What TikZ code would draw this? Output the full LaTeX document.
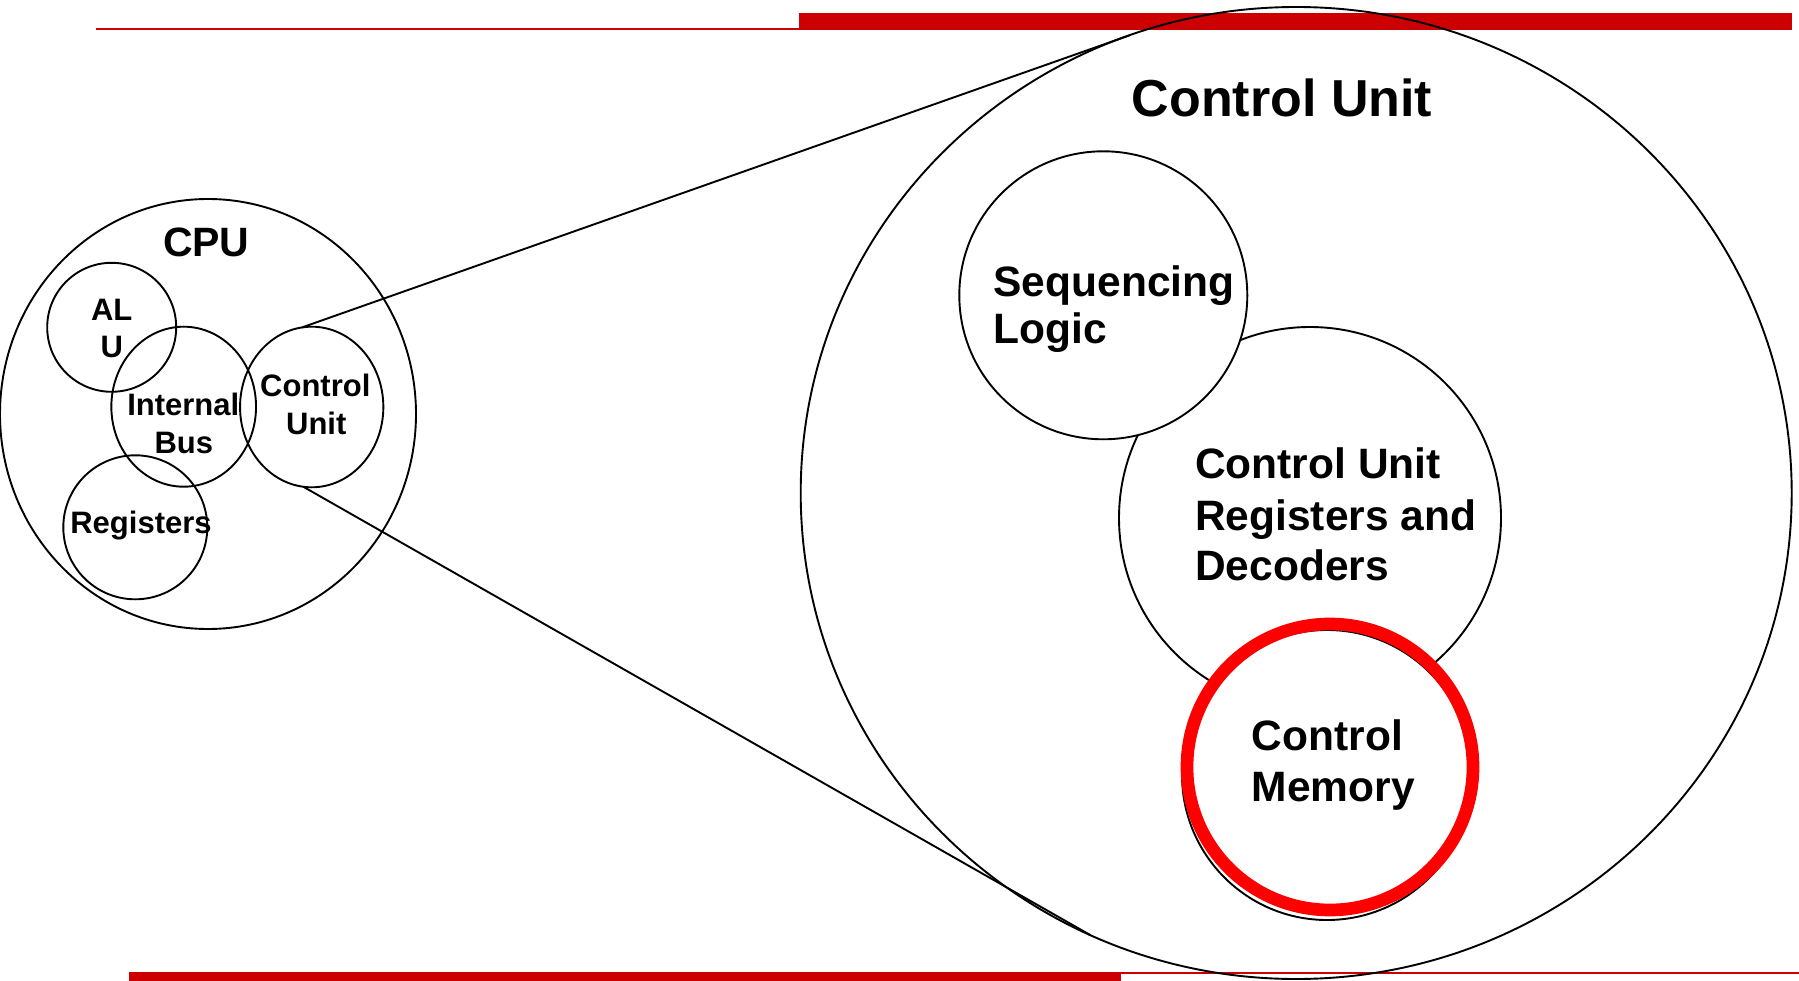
\documentclass[tikz,border=0pt]{standalone}
\usepackage{fontspec}
\setmainfont{Liberation Sans}
\usetikzlibrary{shapes.geometric}
\definecolor{barred}{HTML}{CC0000}
\definecolor{ringred}{HTML}{FF0000}
\tikzset{
  ring/.style={circle,draw=black,line width=1.9pt,inner sep=0pt,outer sep=0pt},
  oval/.style={ellipse,draw=black,line width=1.9pt,inner sep=0pt,outer sep=0pt},
  small/.style={inner sep=0pt,anchor=base,font=\bfseries\fontsize{31pt}{37pt}\selectfont},
  big/.style={inner sep=0pt,anchor=base west,font=\bfseries\fontsize{42.5pt}{50pt}\selectfont},
  zoomline/.style={draw=black,line width=1.9pt}
}
\begin{document}
\begin{tikzpicture}[x=1pt,y=-1pt]
\useasboundingbox (0,0) rectangle (1799,981);
% slide rules
\fill[barred] (96,28) rectangle (799,30);
\fill[barred] (799,13) rectangle (1792,30);
\fill[barred] (128.5,972) rectangle (1121,981);
\fill[barred] (1121,972) rectangle (1799,974);

% CPU overview
\node[oval,minimum width=416pt,minimum height=430pt] (cpu) at (208,414) {};
\node[ring,minimum size=129pt] (alu) at (111.7,327.3) {};
\node[oval,minimum width=144.7pt,minimum height=160pt] (bus) at (183.7,406.7) {};
\node[oval,minimum width=143.3pt,minimum height=160.6pt] (cus) at (311.7,407) {};
\node[ring,minimum size=144pt] (reg) at (135.3,527.3) {};

\node[small,font=\bfseries\fontsize{41pt}{48pt}\selectfont] (cpuT) at (206.3,256.7) {CPU};
\node[small] (aluT1) at (111.7,320.7) {AL};
\node[small] (aluT2) at (111.7,357.3) {U};
\node[small] (busT1) at (183.3,416) {Internal};
\node[small] (busT2) at (183.8,453.3) {Bus};
\node[small] (cusT1) at (315.3,396) {Control};
\node[small] (cusT2) at (316.3,434) {Unit};
\node[small] (regT) at (141,533.3) {Registers};

% enlarged control unit
\node[oval,minimum width=991pt,minimum height=972pt] (cub) at (1296.2,493) {};
\node[ring,minimum size=382pt] (cureg) at (1310,518) {};
\node[ring,fill=white,minimum size=288pt] (seq) at (1103.3,295.3) {};
\node[ring,fill=white,minimum size=290pt] (cmem) at (1327,775) {};
\node[circle,draw=ringred,line width=12.7pt,inner sep=0pt,minimum size=286pt] (cmemR) at (1330,767) {};

\node[inner sep=0pt,anchor=base,font=\bfseries\fontsize{52pt}{60pt}\selectfont] (cubT) at (1282,117) {Control Unit};
\node[big] (seqT1) at (993.3,296.7) {Sequencing};
\node[big] (seqT2) at (993.3,344) {Logic};
\node[big] (curegT1) at (1195,478.3) {Control Unit};
\node[big] (curegT2) at (1195,530) {Registers and};
\node[big] (curegT3) at (1195,580) {Decoders};
\node[big] (cmemT1) at (1251.7,750.7) {Control};
\node[big] (cmemT2) at (1251.7,801.7) {Memory};

% zoom lines
\draw[zoomline] (cus.97) -- (cub.110);
\draw[zoomline] (cus.264.5) -- (cub.245);
\end{tikzpicture}
\end{document}
